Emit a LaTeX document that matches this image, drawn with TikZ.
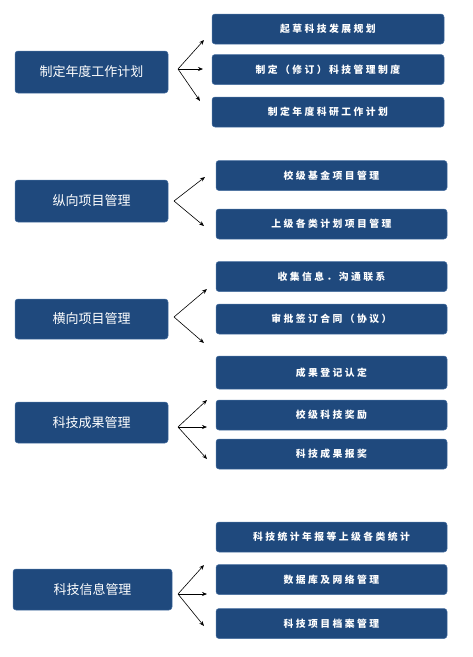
\documentclass[tikz,border=0pt]{standalone}
\usepackage{fontspec}
\setmainfont{Noto Sans CJK SC}
\newfontfamily\cjk{Noto Sans CJK SC}
\usepackage{xcolor}
\usetikzlibrary{arrows.meta,positioning}
\definecolor{boxblue}{RGB}{31,73,125}
\definecolor{boxline}{RGB}{70,110,160}

\begin{document}
\begin{tikzpicture}[
  x=1pt,y=-1pt,
  every node/.style={rectangle,draw=boxline,line width=0.5pt,fill=boxblue,rounded corners=3pt,text=white,inner sep=0pt,align=center},
  mainbox/.style={minimum width=153pt,minimum height=42pt,font=\fontsize{13}{15}\cjk},
  subbox/.style={minimum width=231pt,minimum height=30pt,font=\fontsize{9.8}{11}\cjk\bfseries\addfontfeature{LetterSpace=25}},
  arr/.style={-{Stealth[length=5pt,width=4pt]},line width=0.6pt},
]
\useasboundingbox (0,0) rectangle (472,657);

% main tasks
\node[mainbox] (plan) at (91.5,72) {制定年度工作计划};
\node[mainbox] (vert) at (91.5,201) {纵向项目管理};
\node[mainbox,minimum height=40pt] (horiz) at (91.5,319) {横向项目管理};
\node[mainbox,minimum height=41pt] (result) at (91.5,422.5) {科技成果管理};
\node[mainbox,minimum width=159pt,minimum height=41pt] (info) at (92.5,589.5) {科技信息管理};

% sub tasks
\node[subbox,minimum width=232pt] (plan1) at (328,29) {起草科技发展规划};
\node[subbox,minimum width=232pt] (plan2) at (328,69.5) {制定（修订）科技管理制度};
\node[subbox,minimum width=232pt] (plan3) at (328,112) {制定年度科研工作计划};

\node[subbox] (vert1) at (331.5,175.5) {校级基金项目管理};
\node[subbox] (vert2) at (331.5,224) {上级各类计划项目管理};

\node[subbox] (horiz1) at (331.5,276.5) {收集信息．沟通联系};
\node[subbox] (horiz2) at (331.5,319) {审批签订合同（协议）};

\node[subbox,minimum height=33pt] (result1) at (331.5,372.5) {成果登记认定};
\node[subbox] (result2) at (331.5,415) {校级科技奖励};
\node[subbox] (result3) at (331.5,454) {科技成果报奖};

\node[subbox] (info1) at (331.5,537) {科技统计年报等上级各类统计};
\node[subbox] (info2) at (331.5,579.5) {数据库及网络管理};
\node[subbox] (info3) at (331.5,623.5) {科技项目档案管理};

% split points and arrow ends
\coordinate (s1) at (178,69);
\coordinate (t11) at (204,40);
\coordinate (t12) at (203,69);
\coordinate (t13) at (200,101);
\coordinate (s2) at (174,201);
\coordinate (t21) at (205,177);
\coordinate (t22) at (204,226);
\coordinate (s3) at (174,317);
\coordinate (t31) at (207,289);
\coordinate (t32) at (204,343);
\coordinate (s4) at (178,427);
\coordinate (t41) at (207,400);
\coordinate (t42) at (207,427);
\coordinate (t43) at (207,459);
\coordinate (s5) at (178,594);
\coordinate (t51) at (204,565);
\coordinate (t52) at (207,594);
\coordinate (t53) at (204,626);

\draw[arr] (s1) -- (t11);
\draw[arr] (s1) -- (t12);
\draw[arr] (s1) -- (t13);
\draw[arr] (s2) -- (t21);
\draw[arr] (s2) -- (t22);
\draw[arr] (s3) -- (t31);
\draw[arr] (s3) -- (t32);
\draw[arr] (s4) -- (t41);
\draw[arr] (s4) -- (t42);
\draw[arr] (s4) -- (t43);
\draw[arr] (s5) -- (t51);
\draw[arr] (s5) -- (t52);
\draw[arr] (s5) -- (t53);
\end{tikzpicture}
\end{document}
